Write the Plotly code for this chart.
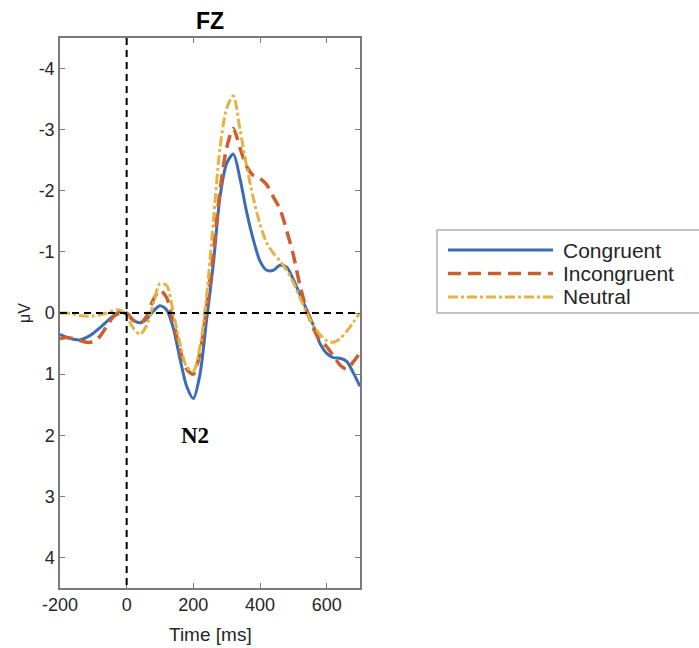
import plotly.graph_objects as go

# Grand-average ERP at electrode FZ, sampled every 20 ms
time_ms = [-200, -180, -160, -140, -120, -100, -80, -60, -40, -20,
           0, 20, 40, 60, 80, 100, 120, 140, 160, 180,
           200, 220, 240, 260, 280, 300, 320, 340, 360, 380,
           400, 420, 440, 460, 480, 500, 520, 540, 560, 580,
           600, 620, 640, 660, 680, 700]

congruent = [0.35, 0.40, 0.43, 0.44, 0.40, 0.33, 0.24, 0.14, 0.05, -0.02,
             0.02, 0.12, 0.16, 0.10, -0.03, -0.12, -0.05, 0.25, 0.75, 1.20,
             1.40, 1.00, 0.10, -0.80, -1.90, -2.45, -2.60, -2.20, -1.65, -1.20,
             -0.85, -0.70, -0.70, -0.78, -0.75, -0.55, -0.30, -0.05, 0.20, 0.50,
             0.66, 0.73, 0.74, 0.79, 0.98, 1.20]

incongruent = [0.42, 0.40, 0.42, 0.45, 0.48, 0.47, 0.38, 0.22, 0.06, 0.00,
               0.00, 0.12, 0.17, 0.05, -0.22, -0.37, -0.25, 0.15, 0.60, 0.92,
               1.00, 0.65, -0.10, -1.00, -2.00, -2.70, -3.02, -2.70, -2.40, -2.25,
               -2.20, -2.10, -1.90, -1.70, -1.35, -0.95, -0.45, -0.05, 0.25, 0.45,
               0.55, 0.70, 0.85, 0.92, 0.80, 0.65]

neutral = [0.00, 0.00, 0.02, 0.04, 0.05, 0.05, 0.03, 0.00, -0.04, -0.05,
           0.05, 0.25, 0.35, 0.20, -0.15, -0.48, -0.45, 0.00, 0.50, 0.88,
           0.95, 0.55, -0.30, -1.50, -2.70, -3.35, -3.55, -3.00, -2.40, -1.88,
           -1.45, -1.15, -0.98, -0.85, -0.70, -0.50, -0.25, 0.00, 0.20, 0.35,
           0.45, 0.48, 0.42, 0.30, 0.15, 0.00]

x_ticks = [-200, 0, 200, 400, 600]
y_ticks = [-4, -3, -2, -1, 0, 1, 2, 3, 4]

BLUE = "#3A6DB5"
ORANGE = "#CC5F30"
YELLOW = "#E3B443"
AXIS = "#7a7a7a"
TEXT = "#262626"
FONT = "Liberation Sans"

conditions = [
    ("Congruent", congruent, dict(color=BLUE, width=3)),
    ("Incongruent", incongruent, dict(color=ORANGE, width=3.5, dash="13px,7px")),
    ("Neutral", neutral, dict(color=YELLOW, width=3, dash="10px,3px,3px,3px")),
]

fig = go.Figure()
for name, values, style in conditions:
    fig.add_trace(go.Scatter(
        x=time_ms, y=values, name=name, mode="lines", showlegend=False,
        line=dict(shape="spline", smoothing=0.8, **style),
    ))

# baseline and stimulus-onset reference lines
fig.add_shape(type="line", xref="x", yref="y", x0=-200, x1=700, y0=0, y1=0,
              line=dict(color="black", width=2, dash="7px,5px"), layer="above")
fig.add_shape(type="line", xref="x", yref="y", x0=0, x1=0, y0=-4.5, y1=4.5,
              line=dict(color="black", width=2, dash="7px,5px"), layer="above")

fig.add_annotation(x=205, y=2.0, xref="x", yref="y", text="<b>N2</b>",
                   showarrow=False,
                   font=dict(family="Liberation Serif", size=23, color="black"))

# axis titles
fig.add_annotation(x=-0.155, y=0.5, xref="paper", yref="paper", text="μV",
                   textangle=-90, showarrow=False,
                   font=dict(family=FONT, size=16, color=TEXT))
fig.add_annotation(x=0.5, y=-0.085, xref="paper", yref="paper", text="Time [ms]",
                   showarrow=False, yanchor="middle",
                   font=dict(family=FONT, size=19, color=TEXT))

# legend panel to the right of the axes (paper coordinates)
fig.add_shape(type="rect", xref="paper", yref="paper",
              x0=1.2567, x1=2.2, y0=0.5, y1=0.651,
              line=dict(color="#8a8a8a", width=1), fillcolor="white")
row_y = [0.6145, 0.5718, 0.5291]
for (name, _, style), yy in zip(conditions, row_y):
    fig.add_shape(type="line", xref="paper", yref="paper",
                  x0=1.2933, x1=1.6433, y0=yy, y1=yy, line=style)
    fig.add_annotation(x=1.67, y=yy, xref="paper", yref="paper", text=name,
                       showarrow=False, xanchor="left", yanchor="middle",
                       font=dict(family=FONT, size=21, color=TEXT))

fig.update_layout(
    width=699, height=648,
    margin=dict(l=60, r=339, t=38, b=60, autoexpand=False),
    paper_bgcolor="white", plot_bgcolor="white",
    font=dict(family=FONT, size=18, color=TEXT),
    title=dict(text="<b>FZ</b>", x=0.5, xref="paper", y=0.968, yref="container",
               xanchor="center", yanchor="middle",
               font=dict(family=FONT, size=23, color="black")),
    showlegend=False,
)

fig.update_xaxes(
    range=[-200, 700], tickvals=x_ticks, ticktext=[str(v) for v in x_ticks],
    ticks="inside", ticklen=5, tickcolor=AXIS, showline=True, linecolor=AXIS,
    linewidth=1.5, mirror="ticks", showgrid=False, zeroline=False,
    tickfont=dict(size=18, color=TEXT),
)
fig.update_yaxes(
    range=[4.5, -4.5], tickvals=y_ticks, ticktext=[str(v) for v in y_ticks],
    ticks="inside", ticklen=5, tickcolor=AXIS, showline=True, linecolor=AXIS,
    linewidth=1.5, mirror="ticks", showgrid=False, zeroline=False,
    tickfont=dict(size=18, color=TEXT),
)

fig.write_html("out.html")
